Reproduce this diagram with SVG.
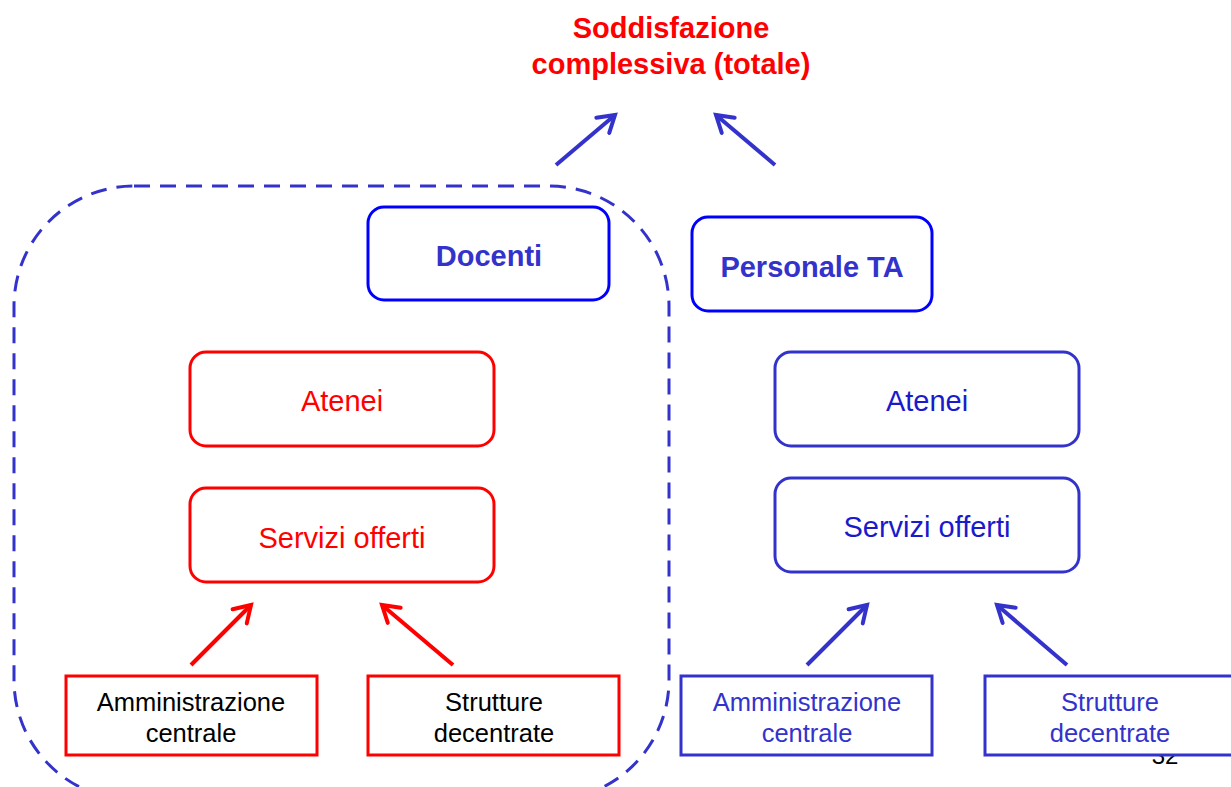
<svg xmlns="http://www.w3.org/2000/svg" width="1231" height="787" viewBox="0 0 1231 787">
<style>
.t{font-family:"Liberation Sans",Arial,sans-serif;text-anchor:middle}
.rr{fill:#fff;stroke:#ff0000;stroke-width:3}
.br{fill:#fff;stroke:#3333cc;stroke-width:3}
.bb{fill:#fff;stroke:#0000ff;stroke-width:3}
.cr{stroke:#ff0000;stroke-width:4;fill:none}
.cb{stroke:#3333cc;stroke-width:4;fill:none}
</style>
<defs>
<marker id="ar" markerUnits="userSpaceOnUse" markerWidth="30" markerHeight="30" refX="18" refY="12" orient="auto" viewBox="0 0 30 24">
<path d="M2,2 L18,12 L2,22" fill="none" stroke="#ff0000" stroke-width="4" stroke-linecap="round"/>
</marker>
<marker id="ab" markerUnits="userSpaceOnUse" markerWidth="30" markerHeight="30" refX="18" refY="12" orient="auto" viewBox="0 0 30 24">
<path d="M2,2 L18,12 L2,22" fill="none" stroke="#3333cc" stroke-width="4" stroke-linecap="round"/>
</marker>
</defs>
<rect width="1231" height="787" fill="#fff"/>
<g id="title">
<text class="t" x="671" y="38" font-size="29" font-weight="bold" fill="#ff0000">Soddisfazione</text>
<text class="t" x="671" y="74" font-size="29" font-weight="bold" fill="#ff0000">complessiva (totale)</text>
</g>
<g id="group-docenti">
<rect x="14" y="186" width="655" height="614" rx="120" fill="none" stroke="#3333cc" stroke-width="3" stroke-dasharray="16 10"/>
</g>
<text class="t" x="1165" y="764" font-size="24" fill="#000">32</text>
<g id="connectors">
<line class="cb" x1="556" y1="165" x2="615" y2="115" marker-end="url(#ab)"/>
<line class="cb" x1="775" y1="165" x2="716" y2="115" marker-end="url(#ab)"/>
<line class="cr" x1="191" y1="665" x2="251" y2="605" marker-end="url(#ar)"/>
<line class="cr" x1="453" y1="665" x2="382" y2="605" marker-end="url(#ar)"/>
<line class="cb" x1="807" y1="665" x2="867" y2="605" marker-end="url(#ab)"/>
<line class="cb" x1="1067" y1="665" x2="997" y2="605" marker-end="url(#ab)"/>
</g>
<g id="docenti">
<rect class="bb" x="368" y="207" width="241" height="93" rx="16"/>
<text class="t" x="489" y="266" font-size="29" font-weight="bold" fill="#3333cc">Docenti</text>
</g>
<g id="personale-ta">
<rect class="bb" x="692" y="217" width="240" height="94" rx="16"/>
<text class="t" x="812" y="277" font-size="29" font-weight="bold" fill="#3333cc">Personale TA</text>
</g>
<g id="atenei-doc">
<rect class="rr" x="190" y="352" width="304" height="94" rx="16"/>
<text class="t" x="342" y="411" font-size="29" fill="#ff0000">Atenei</text>
</g>
<g id="servizi-doc">
<rect class="rr" x="190" y="488" width="304" height="94" rx="16"/>
<text class="t" x="342" y="548" font-size="29" fill="#ff0000">Servizi offerti</text>
</g>
<g id="atenei-ta">
<rect class="br" x="775" y="352" width="304" height="94" rx="16"/>
<text class="t" x="927" y="411" font-size="29" fill="#1a1acc">Atenei</text>
</g>
<g id="servizi-ta">
<rect class="br" x="775" y="478" width="304" height="94" rx="16"/>
<text class="t" x="927" y="537" font-size="29" fill="#1a1acc">Servizi offerti</text>
</g>
<g id="amm-doc">
<rect class="rr" x="66" y="676" width="251" height="79"/>
<text class="t" x="191" y="711" font-size="25.5" fill="#000">Amministrazione</text>
<text class="t" x="191" y="742" font-size="25.5" fill="#000">centrale</text>
</g>
<g id="strut-doc">
<rect class="rr" x="368" y="676" width="251" height="79"/>
<text class="t" x="494" y="711" font-size="25.5" fill="#000">Strutture</text>
<text class="t" x="494" y="742" font-size="25.5" fill="#000">decentrate</text>
</g>
<g id="amm-ta">
<rect class="br" x="681" y="676" width="251" height="79"/>
<text class="t" x="807" y="711" font-size="25.5" fill="#3333cc">Amministrazione</text>
<text class="t" x="807" y="742" font-size="25.5" fill="#3333cc">centrale</text>
</g>
<g id="strut-ta">
<rect class="br" x="985" y="676" width="260" height="79"/>
<text class="t" x="1110" y="711" font-size="25.5" fill="#3333cc">Strutture</text>
<text class="t" x="1110" y="742" font-size="25.5" fill="#3333cc">decentrate</text>
</g>
</svg>
